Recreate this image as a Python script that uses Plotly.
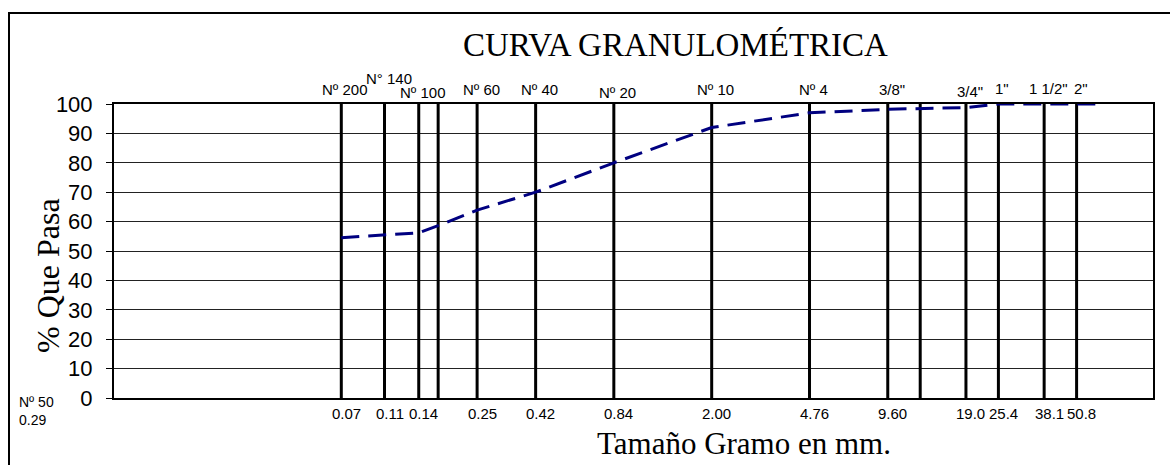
import numpy as np
import plotly.graph_objects as go

# sieve openings (mm) with their labels above / below the chart
sieve_mm = [0.075, 0.11, 0.149, 0.177, 0.25, 0.42, 0.84, 2.00, 4.76, 9.525, 12.7, 19.05, 25.4, 38.1, 50.8]
sieve_top = ["Nº 200", "N° 140", "Nº 100", "", "Nº 60", "Nº 40", "Nº 20", "Nº 10", "Nº 4",
             '3/8"', "", '3/4"', '1"', '1 1/2"', '2"']
sieve_bottom = ["0.07", "0.11", "0.14", "", "0.25", "0.42", "0.84", "2.00", "4.76",
                "9.60", "", "19.0", "25.4", "38.1", "50.8"]

# grading curve
curve_mm = [0.075, 0.11, 0.149, 0.177, 0.25, 0.42, 0.84, 2.00, 4.76, 9.525, 12.7, 19.05, 25.4, 38.1, 50.8, 63.5]
curve_pass = [54.5, 55.4, 56.2, 58.6, 63.9, 70.0, 80.0, 92.0, 97.0, 98.2, 98.4, 98.8, 100, 100, 100, 100]

W, H = 1170, 465
ML, MR, MT, MB = 114, 17, 104, 67
PW, PH = W - ML - MR, H - MT - MB

SANS = "Liberation Sans, Arial, sans-serif"
SERIF = "Liberation Serif, Times New Roman, serif"


def px_x(p):
    return (p - ML) / PW


def px_y(p):
    return (H - MB - p) / PH


# small vertical nudges for the staggered top labels (pixels)
top_lift = {"N° 140": 11, "Nº 100": -3, "Nº 20": -3, '3/4"': -2, '1"': 1, '1 1/2"': 1, '2"': 1}

fig = go.Figure()

vx, vy = [], []
for s in sieve_mm:
    vx += [s, s, None]
    vy += [0, 100, None]

fig.add_trace(go.Scatter(x=vx, y=vy, mode="lines", line=dict(color="black", width=3),
                         hoverinfo="skip", showlegend=False))

fig.add_trace(go.Scatter(x=curve_mm, y=curve_pass, mode="lines",
                         line=dict(color="#000080", width=3, dash="18px,9px"),
                         cliponaxis=False, showlegend=False))

ann = []
for s, t, b in zip(sieve_mm, sieve_top, sieve_bottom):
    if t:
        ann.append(dict(x=np.log10(s), xref="x", y=px_y(89), yref="paper", text=t,
                        showarrow=False, xshift=4, yshift=top_lift.get(t, 0),
                        xanchor="center", yanchor="middle",
                        font=dict(family=SANS, size=15, color="black")))
    if b:
        ann.append(dict(x=np.log10(s), xref="x", y=px_y(413), yref="paper", text=b,
                        showarrow=False, xshift=5, xanchor="center", yanchor="middle",
                        font=dict(family=SANS, size=15, color="black")))

ann.append(dict(x=px_x(17), y=px_y(411), xref="paper", yref="paper", text="Nº 50<br>0.29",
                showarrow=False, xanchor="left", yanchor="middle", align="left",
                font=dict(family=SANS, size=14, color="black")))
ann.append(dict(x=px_x(675), y=px_y(45), xref="paper", yref="paper", text="CURVA GRANULOMÉTRICA",
                showarrow=False, xanchor="center", yanchor="middle",
                font=dict(family=SERIF, size=33, color="black")))
ann.append(dict(x=px_x(744), y=px_y(443), xref="paper", yref="paper", text="Tamaño Gramo en mm.",
                showarrow=False, xanchor="center", yanchor="middle",
                font=dict(family=SERIF, size=31, color="black")))
ann.append(dict(x=px_x(48), y=px_y(276), xref="paper", yref="paper", text="% Que Pasa",
                showarrow=False, xanchor="center", yanchor="middle", textangle=-90,
                font=dict(family=SERIF, size=32, color="black")))

fig.update_layout(
    width=W, height=H,
    margin=dict(l=ML, r=MR, t=MT, b=MB, pad=0),
    paper_bgcolor="white", plot_bgcolor="white",
    annotations=ann,
    showlegend=False,
    shapes=[dict(type="rect", xref="paper", yref="paper",
                 x0=px_x(9), x1=px_x(1200), y0=px_y(13), y1=px_y(500),
                 line=dict(color="black", width=2), fillcolor="rgba(0,0,0,0)", layer="below")],
)

fig.update_xaxes(type="log", range=[-2, 2], showgrid=False, zeroline=False,
                 showticklabels=False, ticks="", showline=True, mirror=True,
                 linecolor="black", linewidth=2)
fig.update_yaxes(range=[0, 100], dtick=10, showgrid=True, gridcolor="#222", gridwidth=1,
                 zeroline=False, showline=True, mirror=True, linecolor="black", linewidth=2,
                 ticks="outside", ticklen=6, tickcolor="black", ticklabelstandoff=9,
                 tickfont=dict(family=SANS, size=22, color="black"))

fig.write_html("out.html", config={"displayModeBar": False},
               post_script="document.body.style.margin='0';")
